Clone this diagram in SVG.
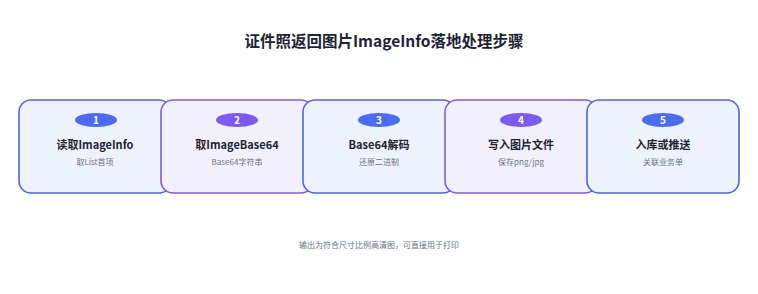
<svg xmlns="http://www.w3.org/2000/svg" width="758" height="294" viewBox="0 0 758 294">
<style>
text{font-family:"Noto Sans CJK SC","Noto Sans",sans-serif;text-anchor:middle}
.title{font-size:15.5px;font-weight:700;fill:#1e2433}
.card{stroke-width:1.6}
.blue{fill:#eef2fd;stroke:#4f67e0}
.purple{fill:#f3f0fd;stroke:#7f5be8}
.bb{fill:#4a6cf0}
.bp{fill:#7a5af0}
.num{font-size:10px;font-weight:700;fill:#ffffff}
.h{font-size:11px;font-weight:700;fill:#1e2433}
.s{font-size:8px;fill:#6b7280}
.foot{font-size:8px;fill:#6b7280}
</style>
<rect width="758" height="294" fill="#ffffff"/>
<text class="title" x="384" y="47">证件照返回图片ImageInfo落地处理步骤</text>
<g id="connectors"></g>
<g id="step1">
<rect class="card blue" x="19" y="100" width="152" height="93" rx="12"/>
<ellipse class="bb" cx="96" cy="120" rx="21" ry="7"/>
<text class="num" x="96" y="123.5">1</text>
<text class="h" x="95" y="149">读取ImageInfo</text>
<text class="s" x="95" y="165">取List首项</text>
</g>
<g id="step2">
<rect class="card purple" x="161" y="100" width="152" height="93" rx="12"/>
<ellipse class="bp" cx="237" cy="120" rx="21" ry="7"/>
<text class="num" x="237" y="123.5">2</text>
<text class="h" x="237" y="149">取ImageBase64</text>
<text class="s" x="237" y="165">Base64字符串</text>
</g>
<g id="step3">
<rect class="card blue" x="303" y="100" width="152" height="93" rx="12"/>
<ellipse class="bb" cx="379" cy="120" rx="21" ry="7"/>
<text class="num" x="379" y="123.5">3</text>
<text class="h" x="379" y="149">Base64解码</text>
<text class="s" x="379" y="165">还原二进制</text>
</g>
<g id="step4">
<rect class="card purple" x="445" y="100" width="152" height="93" rx="12"/>
<ellipse class="bp" cx="521" cy="120" rx="21" ry="7"/>
<text class="num" x="521" y="123.5">4</text>
<text class="h" x="521" y="149">写入图片文件</text>
<text class="s" x="521" y="165">保存png/jpg</text>
</g>
<g id="step5">
<rect class="card blue" x="587" y="100" width="152" height="93" rx="12"/>
<ellipse class="bb" cx="663" cy="120" rx="21" ry="7"/>
<text class="num" x="663" y="123.5">5</text>
<text class="h" x="663" y="149">入库或推送</text>
<text class="s" x="663" y="165">关联业务单</text>
</g>
<text class="foot" x="379" y="248">输出为符合尺寸比例高清图，可直接用于打印</text>
</svg>
